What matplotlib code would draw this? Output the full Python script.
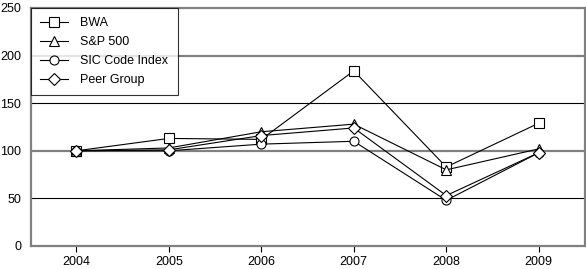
import matplotlib.pyplot as plt

years = [2004, 2005, 2006, 2007, 2008, 2009]
bwa = [100, 113, 112, 184, 83, 129]
sp500 = [100, 103, 120, 128, 80, 102]
sic = [100, 100, 107, 110, 48, 98]
peer = [100, 101, 116, 124, 53, 98]

plt.rcParams['font.family'] = ['Liberation Sans', 'DejaVu Sans']

fig = plt.figure(figsize=(5.86, 2.69), dpi=100)
ax = fig.add_axes([31 / 586, 23 / 269, 554 / 586, 238 / 269])

# grid lines
for y, c, w in [(50, 'black', 0.8), (100, '#808080', 1.6), (150, 'black', 0.8), (200, '#808080', 1.6)]:
    ax.axhline(y, color=c, lw=w, zorder=1)

style = dict(color='black', lw=0.8, mfc='white', mec='black', mew=0.8, zorder=3)
ax.plot(years, bwa, marker='s', ms=6.5, label='BWA', **style)
ax.plot(years, sp500, marker='^', ms=7.5, label='S&P 500', **style)
ax.plot(years, sic, marker='o', ms=6.5, label='SIC Code Index', **style)
ax.plot(years, peer, marker='D', ms=6.5, label='Peer Group', **style)

ax.set_xlim(2003.51, 2009.5)
ax.set_ylim(0, 250)
ax.set_xticks(years)
ax.set_yticks([0, 50, 100, 150, 200, 250])
ax.tick_params(axis='x', direction='out', length=4, width=0.8, labelsize=9, pad=3)
ax.tick_params(axis='y', length=0, labelsize=9, pad=7)
for s in ax.spines.values():
    s.set_color('#808080')
    s.set_linewidth(1.6)

leg = ax.legend(loc='upper left', bbox_to_anchor=(0, 1), fontsize=9, frameon=True,
                fancybox=False, borderaxespad=0, handlelength=2.2, labelspacing=0.55,
                borderpad=0.75, handletextpad=1.0)
leg.get_frame().set_edgecolor('black')
leg.get_frame().set_linewidth(0.8)

fig.savefig('out.png', dpi=100)
